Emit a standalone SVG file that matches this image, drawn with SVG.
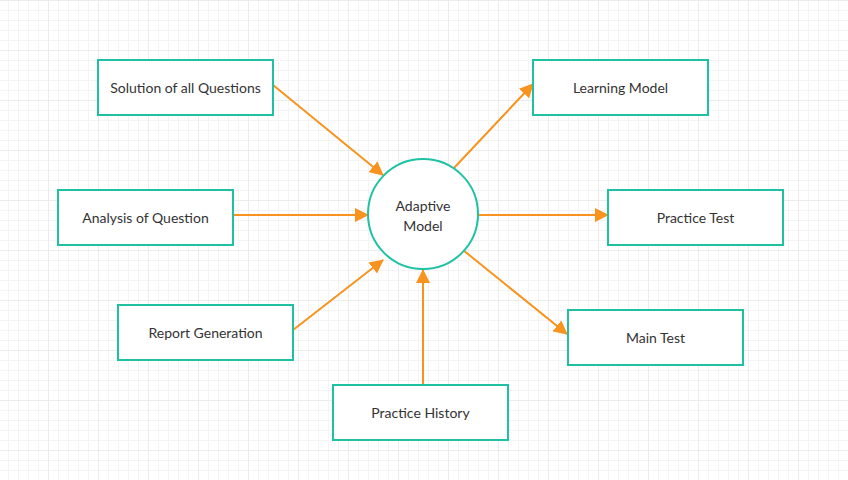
<svg xmlns="http://www.w3.org/2000/svg" width="848" height="480" viewBox="0 0 848 480">
<defs>
<pattern id="g" x="8" y="0" width="10" height="10" patternUnits="userSpaceOnUse">
<path d="M0.5 0V10M0 0.5H10" fill="none" stroke="#f4f4f4" stroke-width="1"/>
</pattern>
<pattern id="G" x="48" y="0" width="50" height="50" patternUnits="userSpaceOnUse">
<path d="M0.5 0V50M0 0.5H50" fill="none" stroke="#ececec" stroke-width="1"/>
</pattern>
<marker id="ah" viewBox="0 0 14 14" refX="13" refY="7" markerWidth="14" markerHeight="14" markerUnits="userSpaceOnUse" orient="auto">
<path d="M0 0L14 7L0 14Z" fill="#f7931e"/>
</marker>
<style>
.n rect,.n circle{fill:#fff;stroke:#1ec2a3;stroke-width:2}
.n text{font-family:Lato,"Liberation Sans",sans-serif;font-size:14px;fill:#333;text-anchor:middle;dominant-baseline:central}
.c line{stroke:#f7931e;stroke-width:2;marker-end:url(#ah)}
</style>
</defs>
<rect width="848" height="480" fill="#fff"/>
<rect width="848" height="480" fill="url(#g)"/>
<rect width="848" height="480" fill="url(#G)"/>
<g class="c" id="connectors">
<line x1="273" y1="85" x2="383" y2="175"/>
<line x1="233" y1="215" x2="368" y2="215"/>
<line x1="293" y1="330" x2="383" y2="260"/>
<line x1="423" y1="385" x2="423" y2="270"/>
<line x1="453" y1="169" x2="533" y2="84"/>
<line x1="478" y1="215" x2="608" y2="215"/>
<line x1="463" y1="250" x2="567" y2="334"/>
</g>
<g class="n" id="solution"><rect x="98" y="60" width="175" height="55"/><text x="185.5" y="87.5">Solution of all Questions</text></g>
<g class="n" id="learning"><rect x="533" y="60" width="175" height="55"/><text x="620.5" y="87.5">Learning Model</text></g>
<g class="n" id="analysis"><rect x="58" y="190" width="175" height="55"/><text x="145.5" y="217.5">Analysis of Question</text></g>
<g class="n" id="practicetest"><rect x="608" y="190" width="175" height="55"/><text x="695.5" y="217.5">Practice Test</text></g>
<g class="n" id="report"><rect x="118" y="305" width="175" height="55"/><text x="205.5" y="332.5">Report Generation</text></g>
<g class="n" id="maintest"><rect x="568" y="310" width="175" height="55"/><text x="655.5" y="337.5">Main Test</text></g>
<g class="n" id="history"><rect x="333" y="385" width="175" height="55"/><text x="420.5" y="412.5">Practice History</text></g>
<g class="n" id="adaptive"><circle cx="423" cy="214" r="55"/><text x="423" y="205">Adaptive</text><text x="423" y="225">Model</text></g>
</svg>
